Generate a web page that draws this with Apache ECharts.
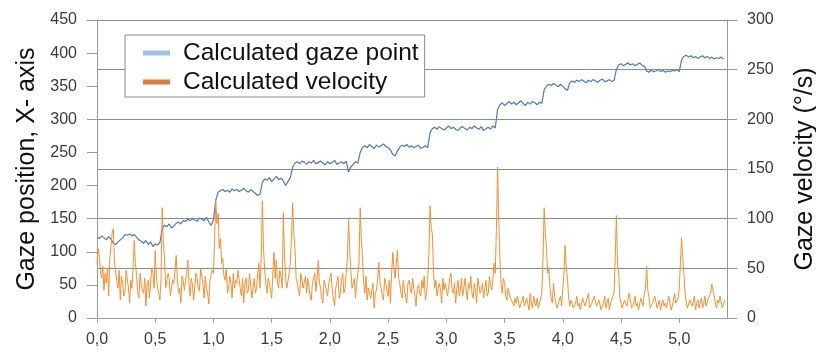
<!DOCTYPE html>
<html>
<head>
<meta charset="utf-8">
<script src="https://cdn.jsdelivr.net/npm/echarts@6/dist/echarts.min.js"></script>
<style>
html,body{margin:0;padding:0;background:#fff;}
#chart{width:816px;height:354px;}
</style>
</head>
<body>
<div id="chart"></div>
<script>
// Sample spacing of the recorded signals (seconds)
const gazeStep = 0.02;
const velocityStep = 0.01;

const seriesNames = ['Calculated gaze point', 'Calculated velocity'];
const leftAxisTitle = 'Gaze position, X- axis';
const rightAxisTitle = 'Gaze velocity (°/s)';
const xTicks = [0, 0.5, 1, 1.5, 2, 2.5, 3, 3.5, 4, 4.5, 5];

// Calculated gaze point (left axis)
const gazePoint = [
  122,120,124,121,118,123,119,113,111,115,
  118,121,126,125,127,124,126,122,118,116,
  113,117,111,115,108,112,110,114,
  135,140,138,142,136,139,143,145,142,147,146,149,
  147,150,148,146,151,149,147,152,145,140,
  148,
  178,190,192,194,191,193,190,195,192,194,
  191,193,196,192,190,194,191,188,185,187,
  205,210,208,212,206,210,214,209,211,207,200,206,212,
  228,234,236,233,237,235,232,236,234,238,233,235,
  237,234,231,236,233,235,238,232,234,236,233,237,
  220,228,232,236,234,
  250,258,260,257,262,259,256,261,258,260,
  263,259,257,254,247,245,252,258,261,259,
  262,258,260,257,259,261,256,258,260,257,
  280,286,288,285,289,286,284,287,290,286,
  288,285,283,287,289,286,284,288,286,290,
  287,285,289,283,286,288,285,290,287,
  315,322,325,321,324,327,323,326,322,325,
  328,324,321,326,323,327,325,322,326,324,
  345,350,353,351,354,352,349,353,350,346,
  344,355,358,356,359,357,360,358,355,359,
  357,360,358,356,359,361,357,358,360,357,
  359,
  375,382,384,381,383,385,382,384,381,383,385,382,380,
  373,371,374,372,373,375,372,374,371,373,372,374,373,375,372,
  390,395,397,394,396,393,395,392,394,396,393,395,392,394,391,393,392,394,391
];

// Calculated velocity (right axis)
const velocity = [
  55,70,62,48,40,52,28,45,35,50,22,60,72,85,90,58,45,38,30,48,
  18,42,35,22,26,48,40,30,15,38,30,52,78,55,42,25,20,45,33,28,
  25,40,12,35,38,20,22,50,45,30,68,42,30,25,18,40,111,75,60,30,
  28,45,40,22,20,38,35,48,63,40,25,30,15,42,38,28,30,45,58,35,
  22,40,33,18,18,45,40,30,27,50,52,35,20,42,30,25,14,38,36,48,
  45,80,118,95,105,70,80,55,60,42,38,50,25,30,42,35,20,45,30,38,
  35,48,50,30,22,40,15,35,40,25,28,45,33,20,18,40,25,30,45,55,
  30,60,118,70,48,35,25,40,36,28,20,45,66,40,58,35,30,48,42,30,
  106,65,40,30,28,45,55,80,116,85,70,40,35,28,22,45,45,30,30,42,
  25,40,38,22,18,35,33,45,27,40,58,35,30,20,15,38,40,28,22,35,
  35,45,28,20,12,30,30,42,20,25,38,45,25,30,45,60,100,70,48,30,
  28,40,20,35,35,55,111,80,60,35,25,42,18,30,32,20,22,35,10,25,
  28,40,56,35,30,22,18,40,35,28,22,38,15,45,66,50,40,55,68,40,
  35,25,20,38,28,22,15,35,38,30,25,40,30,22,12,30,33,25,22,38,
  30,42,18,25,40,65,113,90,85,45,30,38,22,30,35,28,15,40,28,35,
  33,22,20,40,45,28,25,35,15,30,38,22,28,40,22,30,40,28,18,35,
  30,42,25,20,35,28,15,40,42,25,28,35,20,30,38,22,25,42,33,28,
  40,55,45,90,152,100,60,35,25,40,35,22,18,30,30,20,22,15,12,20,
  15,22,20,10,8,18,22,12,12,20,18,8,25,15,10,22,15,12,20,10,
  12,20,25,60,111,85,70,45,50,30,20,15,35,22,15,10,10,18,22,12,
  30,45,73,50,40,20,12,18,18,10,8,15,22,12,15,8,10,20,18,12,
  12,20,25,10,8,15,15,22,20,12,10,18,18,8,12,15,22,10,15,20,
  8,15,18,22,25,60,103,55,45,20,15,10,10,18,20,12,12,25,18,10,
  10,15,22,12,15,8,8,20,18,12,25,30,52,28,20,10,10,15,15,22,
  22,10,12,18,8,15,18,12,15,10,10,22,20,8,12,18,25,15,15,20,
  30,55,81,60,45,25,15,10,10,18,20,12,12,22,8,15,18,10,15,20,
  10,15,22,12,12,20,18,25,34,28,28,15,10,18,15,22,20,10,12,18
];

const toPairs = (arr, step) => arr.map((v, i) => [+(i * step).toFixed(3), v]);

const chart = echarts.init(document.getElementById('chart'));
const labelFont = {fontFamily: 'Liberation Sans, Arial, sans-serif', fontSize: 16, color: '#3a3a3a'};

chart.setOption({
  animation: false,
  backgroundColor: '#ffffff',
  grid: {left: 97, right: 89, top: 20, bottom: 36, containLabel: false, outerBoundsMode: 'none'},
  legend: {
    orient: 'vertical',
    left: 125,
    top: 35,
    backgroundColor: '#ffffff',
    borderColor: '#8a8a8a',
    borderWidth: 1,
    borderRadius: 0,
    padding: [5, 6, 2, 18],
    itemGap: 3,
    itemWidth: 27,
    itemHeight: 5,
    icon: 'rect',
    textStyle: {fontFamily: 'Liberation Sans, Arial, sans-serif', fontSize: 24.5, color: '#111', lineHeight: 26, padding: [0, 0, 0, 8]},
    data: [
      {name: seriesNames[0], itemStyle: {color: '#9DC3E6'}},
      {name: seriesNames[1], itemStyle: {color: '#E07B39'}}
    ]
  },
  xAxis: {
    type: 'value',
    min: 0,
    max: 5.41,
    interval: 0.5,
    axisLine: {show: true, lineStyle: {color: '#8fa3b8', width: 1}},
    axisTick: {show: true, inside: false, length: 5, lineStyle: {color: '#8fa3b8'}},
    splitLine: {show: false},
    axisLabel: Object.assign({
      margin: 14,
      showMaxLabel: false,
      formatter: v => xTicks.some(t => Math.abs(t - v) < 1e-6) ? v.toFixed(1).replace('.', ',') : ''
    }, labelFont)
  },
  yAxis: [
    {
      type: 'value',
      min: 0, max: 450, interval: 50,
      position: 'left',
      name: leftAxisTitle,
      nameLocation: 'middle',
      nameRotate: 90,
      nameGap: 56,
      nameTextStyle: {fontFamily: 'Liberation Sans, Arial, sans-serif', fontSize: 25, color: '#111'},
      axisLine: {show: true, lineStyle: {color: '#999999'}},
      axisTick: {show: true, length: 10, lineStyle: {color: '#999999'}},
      splitLine: {show: false},
      axisLabel: Object.assign({margin: 20}, labelFont)
    },
    {
      type: 'value',
      min: 0, max: 300, interval: 50,
      position: 'right',
      name: rightAxisTitle,
      nameLocation: 'middle',
      nameRotate: 90,
      nameGap: 66,
      nameTextStyle: {fontFamily: 'Liberation Sans, Arial, sans-serif', fontSize: 25, color: '#111'},
      axisLine: {show: true, lineStyle: {color: '#999999'}},
      axisTick: {show: true, length: 10, lineStyle: {color: '#999999'}},
      splitLine: {show: true, lineStyle: {color: '#8c8c8c', width: 1}},
      axisLabel: Object.assign({margin: 20}, labelFont)
    }
  ],
  series: [
    {
      name: seriesNames[0],
      type: 'line',
      yAxisIndex: 0,
      data: toPairs(gazePoint, gazeStep),
      showSymbol: false,
      symbol: 'none',
      lineStyle: {color: '#4A78C9', width: 1.2},
      itemStyle: {color: '#9DC3E6'},
      z: 2
    },
    {
      name: seriesNames[1],
      type: 'line',
      yAxisIndex: 1,
      data: toPairs(velocity, velocityStep),
      showSymbol: false,
      symbol: 'none',
      lineStyle: {color: '#F7902F', width: 1},
      itemStyle: {color: '#E07B39'},
      z: 3
    }
  ]
});
</script>
</body>
</html>
